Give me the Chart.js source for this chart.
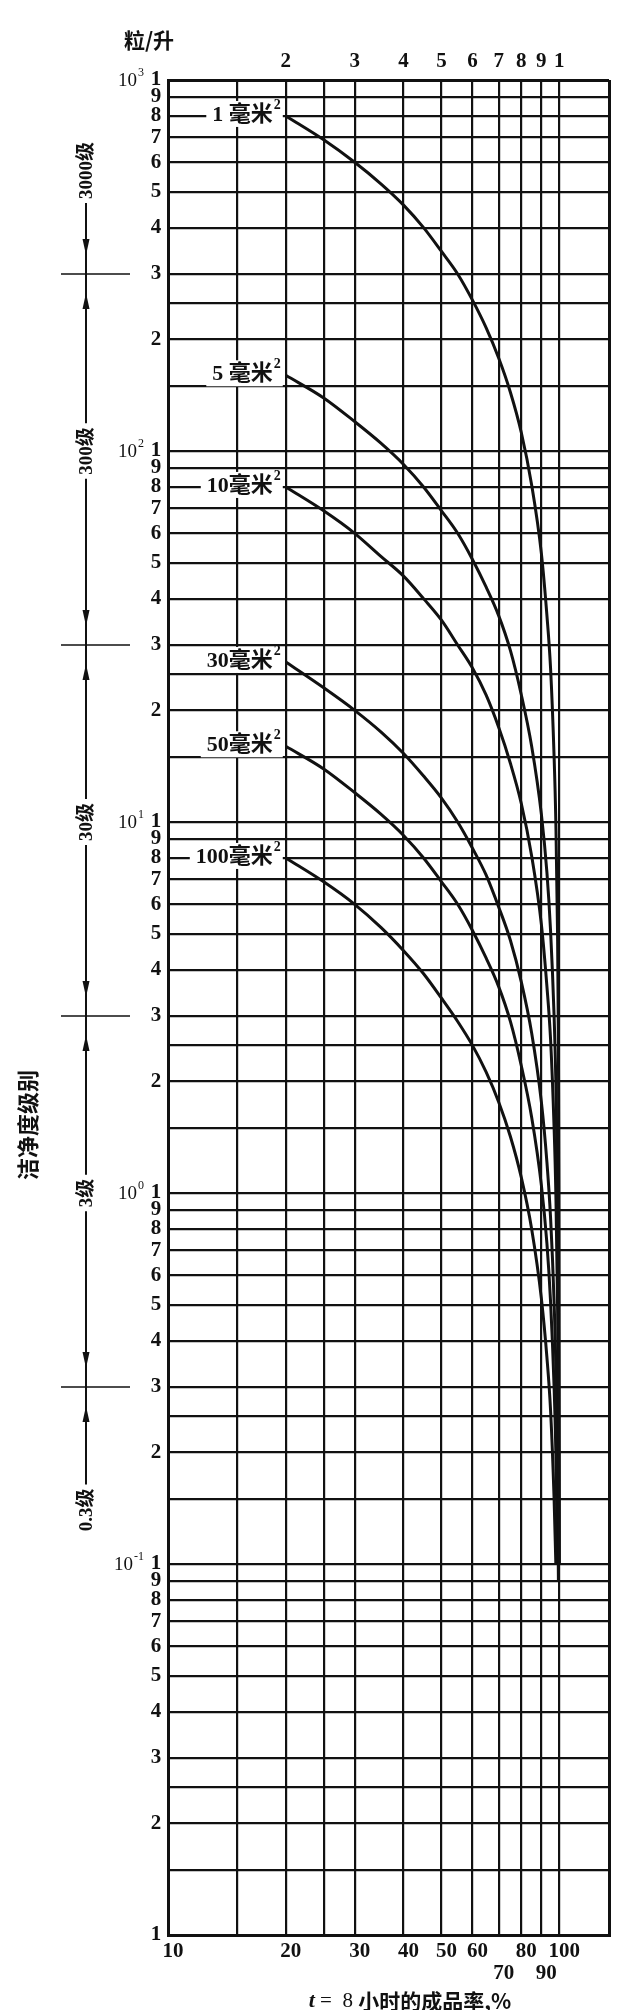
<!DOCTYPE html>
<html>
<head>
<meta charset="utf-8">
<script src="https://cdn.jsdelivr.net/npm/chart.js@4.4.1/dist/chart.umd.min.js"></script>
<style>
  html, body { margin: 0; padding: 0; background: #fff; }
  canvas { display: block; }
</style>
</head>
<body>
<canvas id="yieldChart" width="630" height="2010" style="width:630px;height:2010px"></canvas>
<script>
// t = 8 h yield, %  (x positions where the curves were read)
const yieldPct = [20, 25, 30, 35, 40, 45, 50, 55, 60, 65, 70, 75, 80, 85, 90, 93, 95, 97, 98, 99, 99.5, 99.8, 99.9, 99.95, 99.98];

// particles per litre, one array per chip area (mm2)
const dens1   = [800, 690, 600, 525, 460, 400, 345, 300, 255, 215, 178, 144, 112, 81, 53, 36, 26, 15, 10, 5, 2.5, 1.0, 0.5, 0.25, 0.1];
const dens5   = [160, 139, 120, 105, 92, 80, 69, 60, 51, 43, 36, 29, 22, 16, 10.5, 7.3, 5.1, 3.0, 2.0, 1.0, 0.5, 0.2, 0.1];
const dens10  = [80, 69, 60, 52, 46, 40, 35, 30, 26, 22, 18, 14.4, 11.2, 8.1, 5.3, 3.6, 2.6, 1.5, 1.0, 0.5, 0.25, 0.1];
const dens30  = [27, 23, 20, 17.5, 15.3, 13.3, 11.6, 10, 8.5, 7.2, 5.9, 4.8, 3.7, 2.7, 1.76, 1.21, 0.86, 0.51, 0.34, 0.17, 0.09];
const dens50  = [16, 13.9, 12, 10.5, 9.2, 8, 6.9, 6, 5.1, 4.3, 3.6, 2.9, 2.2, 1.6, 1.05, 0.73, 0.51, 0.3, 0.2, 0.1];
const dens100 = [8, 6.9, 6, 5.2, 4.5, 3.9, 3.35, 2.9, 2.5, 2.12, 1.76, 1.42, 1.1, 0.8, 0.52, 0.36, 0.26, 0.15, 0.1];

const curveNames = ['1 毫米', '5 毫米', '10毫米', '30毫米', '50毫米', '100毫米'];
const curveDens = [dens1, dens5, dens10, dens30, dens50, dens100];

// axes
const xGrid = [10, 15, 20, 25, 30, 40, 50, 60, 70, 80, 90, 100, 134];
const xTopVals = [20, 30, 40, 50, 60, 70, 80, 90, 100];
const xTopLabels = ['2', '3', '4', '5', '6', '7', '8', '9', '1'];
const xBottomVals = [10, 20, 30, 40, 50, 60, 70, 80, 90, 100];
const xBottomLabels = ['10', '20', '30', '40', '50', '60', '70', '80', '90', '100'];
const yMantissa = [1, 1.5, 2, 2.5, 3, 4, 5, 6, 7, 8, 9];
const yDecades = [-2, -1, 0, 1, 2];
const yExpVals = [0.1, 1, 10, 100, 1000];
const yExpLabels = ['-1', '0', '1', '2', '3'];

// cleanliness classes on the left
const classNames = ['3000级', '300级', '30级', '3级', '0.3级'];
const classBounds = [300, 30, 3, 0.3];
const classAt = [570, 100, 10, 1, 0.14];

const yGrid = [];
yDecades.forEach(k => yMantissa.forEach(m => yGrid.push(+(m * Math.pow(10, k)).toPrecision(3))));
yGrid.push(1000);

const INK = '#111';
const SERIF = '"Liberation Serif", "DejaVu Serif", serif';
const CJK = '"Noto Sans CJK SC", sans-serif';

function txt(ctx, s, x, y, font, align) {
  ctx.font = font;
  ctx.textAlign = align || 'center';
  ctx.textBaseline = 'middle';
  ctx.fillText(s, x, y);
}

function arrow(ctx, x, tipY, dir) {
  ctx.beginPath();
  ctx.moveTo(x, tipY);
  ctx.lineTo(x - 3.5, tipY - dir * 16);
  ctx.lineTo(x + 3.5, tipY - dir * 16);
  ctx.closePath();
  ctx.fill();
}

const labelsPlugin = {
  id: 'labels',
  afterDatasetsDraw(chart) {
    const { ctx, scales: { x, y } } = chart;
    ctx.save();
    ctx.fillStyle = INK;
    ctx.strokeStyle = INK;

    // y mantissa digits
    const digitFont = 'bold 21px ' + SERIF;
    yGrid.forEach(v => {
      const m = v / Math.pow(10, Math.floor(Math.log10(v) + 1e-9));
      const r = Math.round(m * 10) / 10;
      if (r % 1 !== 0) return;
      txt(ctx, String(r), 156, y.getPixelForValue(v), digitFont);
    });
    // exponents
    yExpVals.forEach((v, i) => {
      const py = y.getPixelForValue(v);
      ctx.font = '12px ' + SERIF;
      const we = ctx.measureText(yExpLabels[i]).width;
      txt(ctx, yExpLabels[i], 144, py - 7, '12px ' + SERIF, 'right');
      txt(ctx, '10', 144 - we - 1, py + 1, '19px ' + SERIF, 'right');
    });
    txt(ctx, '粒/升', 149, 40, 'bold 21px ' + CJK);

    // top and bottom x labels
    xTopVals.forEach((v, i) => txt(ctx, xTopLabels[i], x.getPixelForValue(v), 62, digitFont));
    xBottomVals.forEach((v, i) => {
      const low = xBottomLabels[i] === '70' || xBottomLabels[i] === '90';
      txt(ctx, xBottomLabels[i], x.getPixelForValue(v) + 5, low ? 1974 : 1952, digitFont);
    });

    // x title
    const parts = [['t', 'italic bold 22px ' + SERIF], [' =  8 ', '21px ' + SERIF], ['小时的成品率,%', 'bold 21px ' + CJK]];
    let total = 0;
    parts.forEach(p => { ctx.font = p[1]; total += ctx.measureText(p[0]).width; });
    let tx = 410 - total / 2;
    parts.forEach(p => { txt(ctx, p[0], tx, 2001, p[1], 'left'); ctx.font = p[1]; tx += ctx.measureText(p[0]).width; });

    // curve labels
    curveDens.forEach((d, i) => {
      const cx = x.getPixelForValue(yieldPct[0]) - 5;
      const cy = y.getPixelForValue(d[0]) - 2;
      const mainFont = 'bold 22px ' + SERIF + ', ' + CJK;
      const supFont = 'bold 14px ' + SERIF;
      ctx.font = supFont;
      const ws = ctx.measureText('2').width;
      ctx.font = mainFont;
      const w = ctx.measureText(curveNames[i]).width;
      ctx.fillStyle = '#fff';
      ctx.fillRect(cx - ws - 1 - w - 6, cy - 13, w + ws + 9, 26);
      ctx.fillStyle = INK;
      txt(ctx, curveNames[i], cx - ws - 1, cy + 1, mainFont, 'right');
      txt(ctx, '2', cx - ws, cy - 9, supFont, 'left');
    });

    // cleanliness class scale
    const lx = 86;
    const classFont = 'bold 19px ' + SERIF + ', ' + CJK;
    ctx.font = classFont;
    const spans = classNames.map((s, i) => {
      const h = ctx.measureText(s).width / 2 + 4;
      const c = y.getPixelForValue(classAt[i]);
      return [c - h, c + h, c];
    });
    ctx.lineWidth = 2;
    classBounds.forEach((b, i) => {
      const cyb = y.getPixelForValue(b);
      ctx.beginPath();
      ctx.moveTo(lx, spans[i][1]);
      ctx.lineTo(lx, spans[i + 1][0]);
      ctx.stroke();
      ctx.lineWidth = 1.5;
      ctx.beginPath();
      ctx.moveTo(61, cyb);
      ctx.lineTo(130, cyb);
      ctx.stroke();
      ctx.lineWidth = 2;
      arrow(ctx, lx, cyb - 19, 1);
      arrow(ctx, lx, cyb + 19, -1);
    });
    classNames.forEach((s, i) => {
      ctx.save();
      ctx.translate(lx, spans[i][2]);
      ctx.rotate(-Math.PI / 2);
      txt(ctx, s, 0, 1, classFont);
      ctx.restore();
    });
    ctx.save();
    ctx.translate(28, 1125);
    ctx.rotate(-Math.PI / 2);
    txt(ctx, '洁净度级别', 0, 0, 'bold 22px ' + CJK);
    ctx.restore();

    ctx.restore();
  }
};

const edge = (vals) => (c) => (c.tick && (c.tick.value === vals[0] || c.tick.value === vals[1])) ? 3 : 2.2;

new Chart(document.getElementById('yieldChart').getContext('2d'), {
  type: 'line',
  data: {
    datasets: curveDens.map((d, i) => ({
      label: curveNames[i],
      data: d.map((v, j) => ({ x: yieldPct[j], y: v })),
      borderColor: INK,
      borderWidth: 3,
      pointRadius: 0,
      fill: false,
      cubicInterpolationMode: 'monotone'
    }))
  },
  options: {
    responsive: false,
    animation: false,
    devicePixelRatio: 1,
    layout: { padding: { left: 168, right: 21, top: 80, bottom: 75 } },
    plugins: { legend: { display: false }, tooltip: { enabled: false } },
    scales: {
      x: {
        type: 'logarithmic', min: 10, max: 134,
        afterBuildTicks: s => { s.ticks = xGrid.map(v => ({ value: v })); },
        afterFit: s => { s.height = 0; },
        ticks: { display: false },
        grid: { color: INK, lineWidth: edge([10, 134]), drawTicks: false },
        border: { display: true, color: INK, width: 3 }
      },
      y: {
        type: 'logarithmic', min: 0.01, max: 1000,
        afterBuildTicks: s => { s.ticks = yGrid.map(v => ({ value: v })); },
        afterFit: s => { s.width = 0; },
        ticks: { display: false },
        grid: { color: INK, lineWidth: edge([0.01, 1000]), drawTicks: false },
        border: { display: true, color: INK, width: 3 }
      }
    }
  },
  plugins: [labelsPlugin]
});
</script>
</body>
</html>
